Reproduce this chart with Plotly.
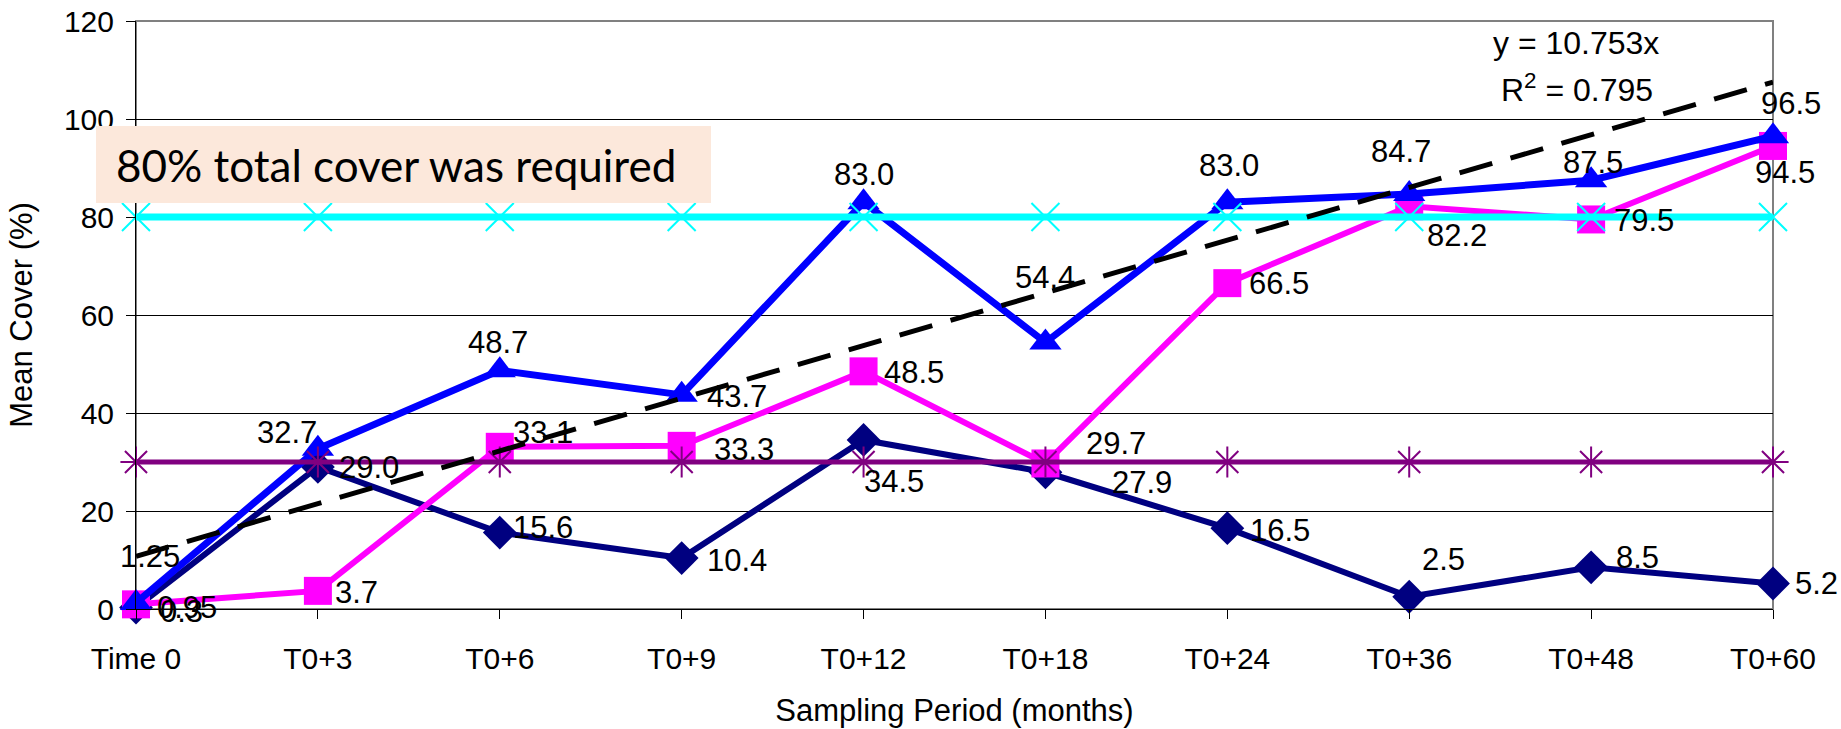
import plotly.graph_objects as go

# ---------------- data ----------------
periods = ["Time 0", "T0+3", "T0+6", "T0+9", "T0+12", "T0+18", "T0+24", "T0+36", "T0+48", "T0+60"]
navy_vals = [0.3, 29.0, 15.6, 10.4, 34.5, 27.9, 16.5, 2.5, 8.5, 5.2]
magenta_vals = [0.95, 3.7, 33.1, 33.3, 48.5, 29.7, 66.5, 82.2, 79.5, 94.5]
blue_vals = [1.25, 32.7, 48.7, 43.7, 83.0, 54.4, 83.0, 84.7, 87.5, 96.5]
required_vals = [80, 80, 80, 80, 80, 80, 80, 80, 80, 80]
reference_vals = [30, 30, 30, 30, 30, 30, 30, 30, 30, 30]
trend_vals = [10.753, 21.506, 32.259, 43.012, 53.765, 64.518, 75.271, 86.024, 96.777, 107.53]
y_ticks = [0, 20, 40, 60, 80, 100, 120]

# label offsets (px) for data labels: (dx, dy_down)
navy_off = [(45, 4), (51, 1), (43, -5), (55, 2), (30, 42), (97, 10), (53, 2), (34, -37), (46, -10), (43, 0)]
magenta_off = [(51, 3), (39, 2), (43, -14), (62, 4), (50, 1), (71, -20), (52, 0), (48, 29), (53, 1), (12, 27)]
blue_off = [(14, -46), (-31, -16), (-2, -28), (55, 2), (0, -28), (0, -65), (2, -37), (-8, -42), (2, -18), (18, -33)]

FONT = "Liberation Sans, Arial, sans-serif"
xs = list(range(len(periods)))

fig = go.Figure()

fig.add_trace(go.Scatter(x=xs, y=navy_vals, mode="lines+markers",
                         line=dict(color="#000080", width=6),
                         marker=dict(symbol="diamond", size=26, color="#000080"),
                         hoverinfo="skip", cliponaxis=False))
fig.add_trace(go.Scatter(x=xs, y=magenta_vals, mode="lines+markers",
                         line=dict(color="#FF00FF", width=6),
                         marker=dict(symbol="square", size=28, color="#FF00FF"),
                         hoverinfo="skip", cliponaxis=False))
fig.add_trace(go.Scatter(x=xs, y=blue_vals, mode="lines+markers",
                         line=dict(color="#0000FF", width=7),
                         marker=dict(symbol="triangle-up", size=28, color="#0000FF"),
                         hoverinfo="skip", cliponaxis=False))
fig.add_trace(go.Scatter(x=xs, y=required_vals, mode="lines+markers",
                         line=dict(color="#00FFFF", width=7),
                         marker=dict(symbol="x-thin", size=28, line=dict(color="#00FFFF", width=2)),
                         hoverinfo="skip", cliponaxis=False))
fig.add_trace(go.Scatter(x=xs, y=reference_vals, mode="lines+markers",
                         line=dict(color="#800080", width=5),
                         marker=dict(symbol="asterisk", size=26, line=dict(color="#800080", width=2)),
                         hoverinfo="skip", cliponaxis=False))
fig.add_trace(go.Scatter(x=xs, y=trend_vals, mode="lines",
                         line=dict(color="black", width=5, dash="34px,19px"),
                         hoverinfo="skip"))


def fmt(v):
    return f"{v:.1f}" if round(v, 1) == v else f"{v:.2f}"


annotations = []
for vals, offs in ((navy_vals, navy_off), (magenta_vals, magenta_off), (blue_vals, blue_off)):
    for i, v in enumerate(vals):
        dx, dy = offs[i]
        annotations.append(dict(x=xs[i], y=v, xref="x", yref="y", text=fmt(v), showarrow=False,
                                xshift=dx, yshift=-dy, xanchor="center", yanchor="middle",
                                font=dict(family=FONT, size=31, color="black")))

# plot area in px
L, R, T, B = 136, 1773, 21, 609
PW, PH = R - L, B - T


def px(x):
    return (x - L) / PW


def py(y):
    return (B - y) / PH


annotations.append(dict(xref="paper", yref="paper", x=px(1576), y=py(43), text="y = 10.753x",
                        showarrow=False, xanchor="center", yanchor="middle",
                        font=dict(family=FONT, size=32, color="black")))
annotations.append(dict(xref="paper", yref="paper", x=px(1577), y=py(88), text="R<sup>2</sup> = 0.795",
                        showarrow=False, xanchor="center", yanchor="middle",
                        font=dict(family=FONT, size=32, color="black")))
annotations.append(dict(xref="paper", yref="paper", x=px(114), y=py(165), text="80% total cover was required",
                        showarrow=False, xanchor="left", yanchor="middle",
                        font=dict(family="Lato, Open Sans, sans-serif", size=44, color="black")))

shapes = [
    dict(type="rect", xref="paper", yref="paper", x0=0, x1=1, y0=0, y1=1,
         line=dict(color="#808080", width=2), layer="below"),
    dict(type="rect", xref="paper", yref="paper", x0=px(96), x1=px(711), y0=py(203), y1=py(126),
         fillcolor="#FCE8DB", line=dict(width=0), layer="above"),
]

fig.update_layout(
    width=1841, height=729, autosize=False,
    margin=dict(l=L, r=1841 - R, t=T, b=729 - B, autoexpand=False),
    paper_bgcolor="white", plot_bgcolor="white",
    showlegend=False,
    font=dict(family=FONT, size=30, color="black"),
    annotations=annotations,
    shapes=shapes,
    xaxis=dict(range=[0, 9], tickmode="array", tickvals=xs, ticktext=periods,
               automargin=False,
               showgrid=False, zeroline=False, showline=True, linecolor="black", linewidth=1,
               ticks="outside", ticklen=9, tickcolor="black", tickwidth=1,
               ticklabelstandoff=14,
               tickfont=dict(family=FONT, size=30, color="black"),
               title=dict(text="Sampling Period (months)", standoff=25,
                          font=dict(family=FONT, size=31, color="black"))),
    yaxis=dict(range=[0, 120], tickmode="array", tickvals=y_ticks,
               automargin=False,
               showgrid=True, gridcolor="black", gridwidth=1, zeroline=False,
               showline=True, linecolor="black", linewidth=1,
               ticks="outside", ticklen=9, tickcolor="black", tickwidth=1,
               ticklabelstandoff=6,
               tickfont=dict(family=FONT, size=30, color="black"),
               title=dict(text="Mean Cover (%)", standoff=22,
                          font=dict(family=FONT, size=31, color="black"))),
)

fig.write_html("out.html", config={"displayModeBar": False},
               post_script="document.body.style.margin='0';document.body.style.overflow='hidden';")
